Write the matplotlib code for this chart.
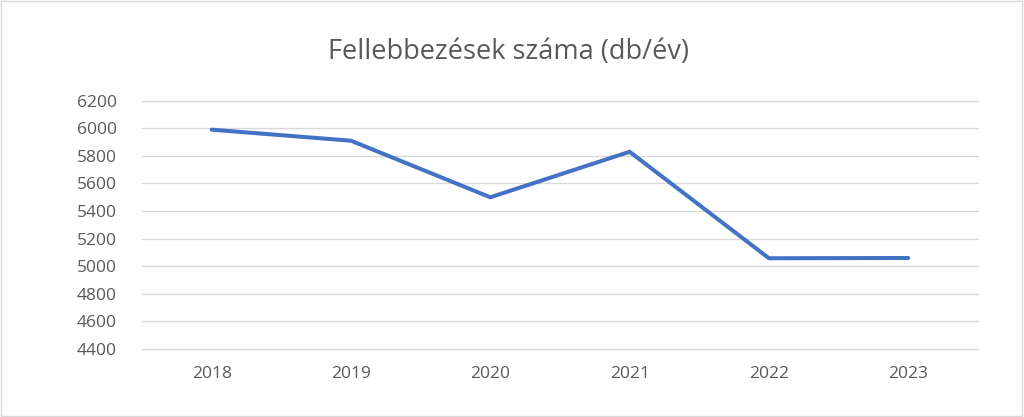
import matplotlib.pyplot as plt
from matplotlib.patches import Rectangle

# Adatok
evek = ["2018", "2019", "2020", "2021", "2022", "2023"]
fellebbezesek = [5990, 5910, 5500, 5830, 5058, 5060]
y_tickek = [4400, 4600, 4800, 5000, 5200, 5400, 5600, 5800, 6000, 6200]

plt.rcParams['font.family'] = ['Open Sans', 'DejaVu Sans']
szurke = '#595959'

fig = plt.figure(figsize=(10.24, 4.17), dpi=100)
ax = fig.add_axes([0.1387, 0.163, 0.8163, 0.5955])

x = range(len(evek))
ax.plot(x, fellebbezesek, color='#4472C4', linewidth=2.9, solid_capstyle='round', zorder=3)

ax.set_xlim(-0.5, len(evek) - 0.5)
ax.set_ylim(y_tickek[0], y_tickek[-1])
ax.set_yticks(y_tickek)
ax.set_xticks(list(x))
ax.set_xticklabels(evek)
ax.grid(axis='y', color='#D9D9D9', linewidth=1)
for gl in ax.get_ygridlines():
    gl.set_clip_on(False)
ax.set_axisbelow(True)
for s in ax.spines.values():
    s.set_visible(False)
ax.tick_params(length=0, labelsize=12.5, labelcolor=szurke)
ax.tick_params(axis='y', pad=18)
ax.tick_params(axis='x', pad=12)

fig.text(0.497, 0.875, "Fellebbezések száma (db/év)", ha='center', va='center',
         fontsize=19.5, color=szurke)

# keret
fig.patches.append(Rectangle((0.001, 0.002), 0.997, 0.995, transform=fig.transFigure,
                             fill=False, edgecolor='#D9D9D9', linewidth=1))

fig.savefig('out.png', dpi=100)
